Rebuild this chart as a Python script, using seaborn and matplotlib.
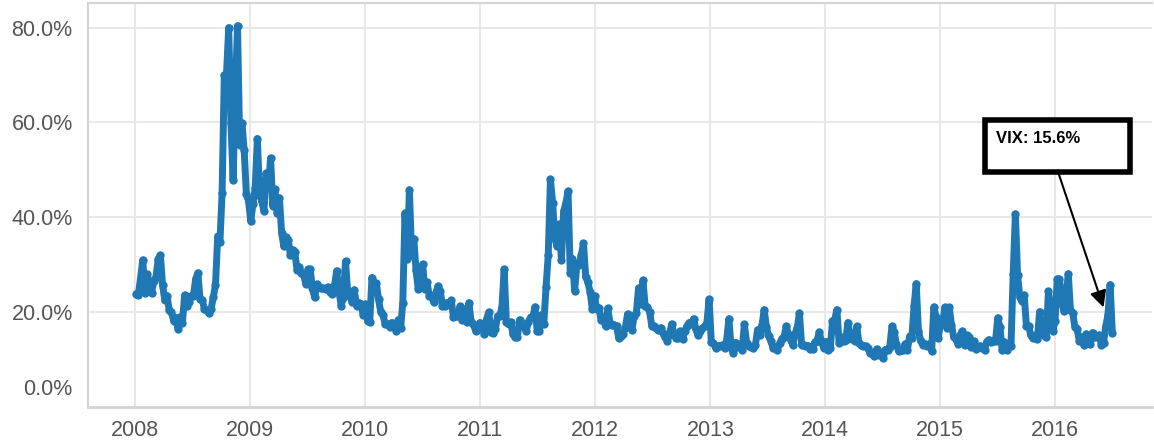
import numpy as np
import pandas as pd
import matplotlib
matplotlib.use("Agg")
import matplotlib.pyplot as plt
import matplotlib.dates as mdates
import matplotlib.transforms as mtransforms
from matplotlib.patches import Rectangle
from matplotlib.ticker import FuncFormatter
import seaborn as sns

# weekly VIX readings (%), one list per year, first week starts 2008-01-04
vix_2008 = [23.9, 23.7, 27.2, 31.0, 24.0, 28.0, 26.0, 24.1, 26.5,
            27.5, 31.2, 32.0, 25.7, 22.5, 23.5, 20.4, 20.1,
            18.2, 18.8, 16.5, 19.0, 17.8, 23.6, 21.4, 22.2, 23.4,
            23.5, 27.0, 28.3, 22.7, 22.6, 20.6, 20.4, 19.8, 20.6,
            23.1, 25.7, 36.0, 34.7, 45.1, 70.0, 70.3, 80.0, 59.9,
            47.8, 66.3, 80.4, 55.3, 59.9, 54.3, 44.9, 43.4]
vix_2009 = [39.2, 42.8, 46.1, 56.6, 44.8, 43.4, 41.3, 49.3, 46.4,
            52.5, 42.4, 45.9, 40.9, 44.1, 36.8, 33.9, 35.8,
            35.3, 32.1, 33.1, 32.6, 28.9, 29.6, 28.2, 27.9, 25.9,
            29.0, 29.0, 25.0, 23.1, 25.9, 25.4, 25.0, 25.0, 24.8,
            25.3, 24.2, 23.9, 25.6, 28.7, 24.5, 21.4, 23.0, 30.7,
            24.2, 23.4, 22.2, 24.7, 21.3, 22.0, 21.7, 19.5]
vix_2010 = [21.7, 18.1, 17.9, 27.3, 24.6, 26.1, 22.7, 20.0, 19.5,
            17.4, 17.6, 16.9, 17.8, 17.5, 16.1, 18.4, 16.6, 22.0,
            40.9, 31.2, 45.8, 32.1, 35.5, 28.8, 24.9, 28.5,
            30.1, 24.9, 26.3, 23.5, 23.5, 22.1, 24.1, 25.5, 24.5,
            21.3, 21.2, 22.0, 21.7, 22.5, 18.9, 19.1, 19.1, 21.2,
            18.3, 20.6, 18.0, 22.0, 18.0, 17.6, 16.1, 16.5, 17.8]
vix_2011 = [17.1, 15.5, 18.5, 20.0, 15.9, 15.7, 16.4, 19.2,
            19.1, 21.1, 29.0, 17.9, 17.4, 17.9, 15.3, 14.7, 14.8,
            18.4, 17.1, 17.4, 16.0, 18.0, 18.9, 18.9, 21.1,
            16.1, 16.0, 19.5, 17.5, 25.3, 32.0, 48.0, 43.1, 35.6,
            33.9, 38.5, 31.0, 41.3, 43.0, 45.5, 28.2, 31.3, 24.5,
            30.2, 30.0, 32.0, 34.5, 27.5, 26.3, 24.3, 20.7, 23.4]
vix_2012 = [20.6, 20.9, 18.3, 18.5, 17.1, 20.8, 17.8, 17.3,
            17.3, 17.1, 14.5, 15.0, 15.5, 16.7, 19.6, 17.4, 16.3,
            19.2, 19.9, 25.1, 21.8, 26.7, 21.2, 21.1, 20.1, 17.1,
            17.1, 16.7, 16.3, 16.7, 15.6, 14.7, 14.0, 15.2, 17.5,
            15.6, 14.5, 14.5, 16.0, 14.3, 16.1, 17.1, 17.8,
            17.6, 18.6, 16.4, 15.1, 16.0, 16.6, 17.0, 17.8, 22.7]
vix_2013 = [13.8, 13.4, 12.5, 12.9, 12.9, 13.0, 12.5, 14.2,
            18.6, 12.6, 11.3, 13.6, 12.7, 12.9, 12.1, 17.4, 13.6,
            12.9, 12.6, 12.5, 13.0, 16.3, 15.1, 17.2, 20.5, 16.9,
            14.9, 14.0, 12.5, 12.7, 12.0, 13.4, 14.4, 14.8, 17.0,
            15.4, 14.2, 13.1, 15.5, 16.7, 19.8, 13.0, 13.1,
            12.8, 12.9, 12.2, 12.3, 13.7, 14.0, 15.8, 13.8, 12.5]
vix_2014 = [13.8, 12.1, 12.4, 18.1, 18.4, 20.5, 13.6, 14.7, 14.0,
            14.1, 17.8, 15.0, 14.4, 13.9, 17.0, 13.4, 13.1,
            12.9, 12.9, 12.4, 11.4, 11.4, 10.7, 12.2, 10.9, 11.3,
            10.3, 12.1, 12.1, 12.7, 17.0, 15.8, 13.2, 11.8, 12.1,
            12.1, 13.3, 12.1, 14.9, 14.6, 21.2, 26.0, 16.1, 14.0,
            13.1, 13.3, 12.9, 13.3, 11.8, 21.1, 19.0, 14.5]
vix_2015 = [17.8, 17.6, 21.0, 16.7, 21.0, 17.3, 14.7, 14.3, 13.3,
            15.2, 16.0, 13.0, 15.1, 14.7, 12.6, 13.9, 12.3,
            12.7, 12.9, 12.4, 12.1, 13.8, 14.2, 13.8, 14.0, 14.0,
            18.8, 16.8, 12.0, 13.7, 12.1, 13.4, 12.8, 28.0, 40.7,
            27.8, 23.2, 22.3, 23.6, 17.1, 17.1, 15.1, 14.5, 15.1,
            14.3, 20.1, 15.5, 15.1, 14.8, 24.4, 20.7, 16.0]
vix_2016 = [18.2, 27.0, 27.0, 22.3, 20.2, 23.4, 28.1, 20.5, 19.8,
            16.9, 16.5, 14.0, 14.7, 13.1, 15.4, 13.6, 13.2, 15.7,
            14.7, 15.0, 15.2, 13.1, 13.5, 17.0, 19.4, 25.8, 15.6]

vix = (vix_2008 + vix_2009 + vix_2010 + vix_2011 + vix_2012
       + vix_2013 + vix_2014 + vix_2015 + vix_2016)
dates = pd.date_range("2008-01-04", periods=len(vix), freq="7D")
df = pd.DataFrame({"date": dates, "vix": vix})

last_label = "VIX: 15.6%"

sns.set_style("white")
plt.rcParams["font.family"] = ["Liberation Sans", "DejaVu Sans"]

fig = plt.figure(figsize=(11.54, 4.44), dpi=100)
ax = fig.add_axes([88 / 1154, 37 / 444, 1064 / 1154, 404 / 444])

grid_c = "#e8e8e8"
sns.lineplot(data=df, x="date", y="vix", ax=ax, color="#1f77b4",
             linewidth=5, marker="o", markersize=6, markeredgewidth=0,
             zorder=3)

ax.set_xlim(pd.Timestamp("2007-08-04"), pd.Timestamp("2016-11-04"))
ax.set_ylim(0, 85.2)
ax.set_xlabel("")
ax.set_ylabel("")

ax.xaxis.set_major_locator(mdates.YearLocator())
ax.xaxis.set_major_formatter(mdates.DateFormatter("%Y"))
ax.xaxis.set_minor_locator(mdates.MonthLocator(bymonth=[1, 4, 7, 10]))
ax.set_yticks([0, 20, 40, 60, 80])
ax.yaxis.set_major_formatter(FuncFormatter(lambda v, p: f"{v:.1f}%"))

for v in [20, 40, 60, 80]:
    ax.axhline(v, color=grid_c, lw=1.5, zorder=0)
ax.grid(axis="x", which="major", color=grid_c, lw=1.5, zorder=0)

ax.tick_params(axis="x", which="major", length=8, width=1.2, color="#cccccc",
               labelsize=15.5, labelcolor="#555555", pad=1.5)
ax.tick_params(axis="x", which="minor", length=3, width=1, color="#cccccc")
ax.tick_params(axis="y", which="major", length=10, width=1.2, color="#dddddd",
               labelsize=15.5, labelcolor="#555555", pad=1)

for s in ["left", "bottom", "top"]:
    ax.spines[s].set_color("#d4d4d4")
    ax.spines[s].set_linewidth(1.5)
ax.spines["bottom"].set_linewidth(2)
ax.spines["right"].set_visible(False)

# the 0.0% label sits a bit above the axis line in the reference
fig.canvas.draw()
zero_lbl = ax.get_yticklabels()[0]
zero_lbl.set_transform(zero_lbl.get_transform()
                       + mtransforms.ScaledTranslation(0, 0.2, fig.dpi_scale_trans))

# annotation box with arrow
ax.add_patch(Rectangle((0.843, 0.582), 0.136, 0.128, transform=ax.transAxes,
                       fill=True, facecolor="white", edgecolor="black",
                       linewidth=4, zorder=5))
ax.text(0.853, 0.664, last_label, transform=ax.transAxes, fontsize=12,
        fontweight="bold", color="black", ha="left", va="center", zorder=6)
ax.annotate("", xy=(pd.Timestamp("2016-06-03"), 21.0),
            xytext=(0.9117, 0.582), textcoords="axes fraction",
            arrowprops=dict(arrowstyle="-|>", color="black", lw=1.5,
                            mutation_scale=25, shrinkA=0, shrinkB=0),
            zorder=6)

fig.savefig("out.png", dpi=100)
